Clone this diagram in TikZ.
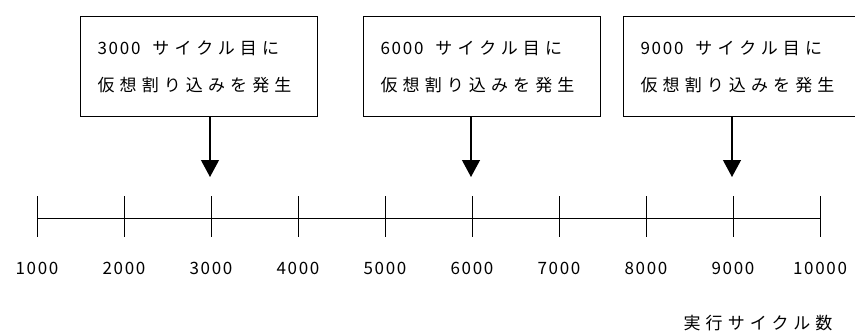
\documentclass[tikz,border=0pt]{standalone}
\usepackage{fontspec}
\usetikzlibrary{arrows.meta,positioning}
\newfontfamily\jpfont[LetterSpace=30]{Noto Sans CJK JP}
\newfontfamily\jpnum[LetterSpace=10]{Noto Sans CJK JP}
\newcommand\kana[1]{{\fontsize{17}{37}\selectfont\jpfont #1}}
\newcommand\digits[1]{{\fontsize{17}{37}\selectfont\jpnum #1}}

\begin{document}
\begin{tikzpicture}[x=1pt, y=-1pt, >={Triangle[width=18pt,length=17pt]},
  event/.style={draw, line width=1.2pt, anchor=north west, minimum width=237pt, minimum height=100pt,
    text width=203pt, inner xsep=17pt, align=left, font=\fontsize{17}{37}\selectfont},
  num/.style={inner sep=0pt}]
\useasboundingbox (0,0) rectangle (855,332);
% event boxes
\node[event] (b1) at (80,16) {\digits{3000}\hspace{12pt}\kana{サイクル目に}\\\kana{仮想割り込みを発生}};
\node[event] (b2) at (363,16) {\digits{6000}\hspace{12pt}\kana{サイクル目に}\\\kana{仮想割り込みを発生}};
\node[event] (b3) at (623,16) {\digits{9000}\hspace{12pt}\kana{サイクル目に}\\\kana{仮想割り込みを発生}};
% time axis
\foreach \i in {1,...,10} {
  \coordinate (t\i) at ({37+87*(\i-1)},218);
  \draw[line width=1pt] ({37+87*(\i-1)},196) -- ({37+87*(\i-1)},237);
  \node[num] (l\i) at ({37+87*(\i-1)},268) {\digits{\the\numexpr\i*1000\relax}};
}
\draw[line width=1pt] (t1) -- (t10);
\node[num] (unit) at (758,323) {\kana{実行サイクル数}};
% interrupts
\coordinate (h1) at (210,177);
\coordinate (h2) at (471,177);
\coordinate (h3) at (732,177);
\draw[->, line width=1.2pt] (b1.south -| h1) -- (h1);
\draw[->, line width=1.2pt] (b2.south -| h2) -- (h2);
\draw[->, line width=1.2pt] (b3.south -| h3) -- (h3);
\end{tikzpicture}
\end{document}
